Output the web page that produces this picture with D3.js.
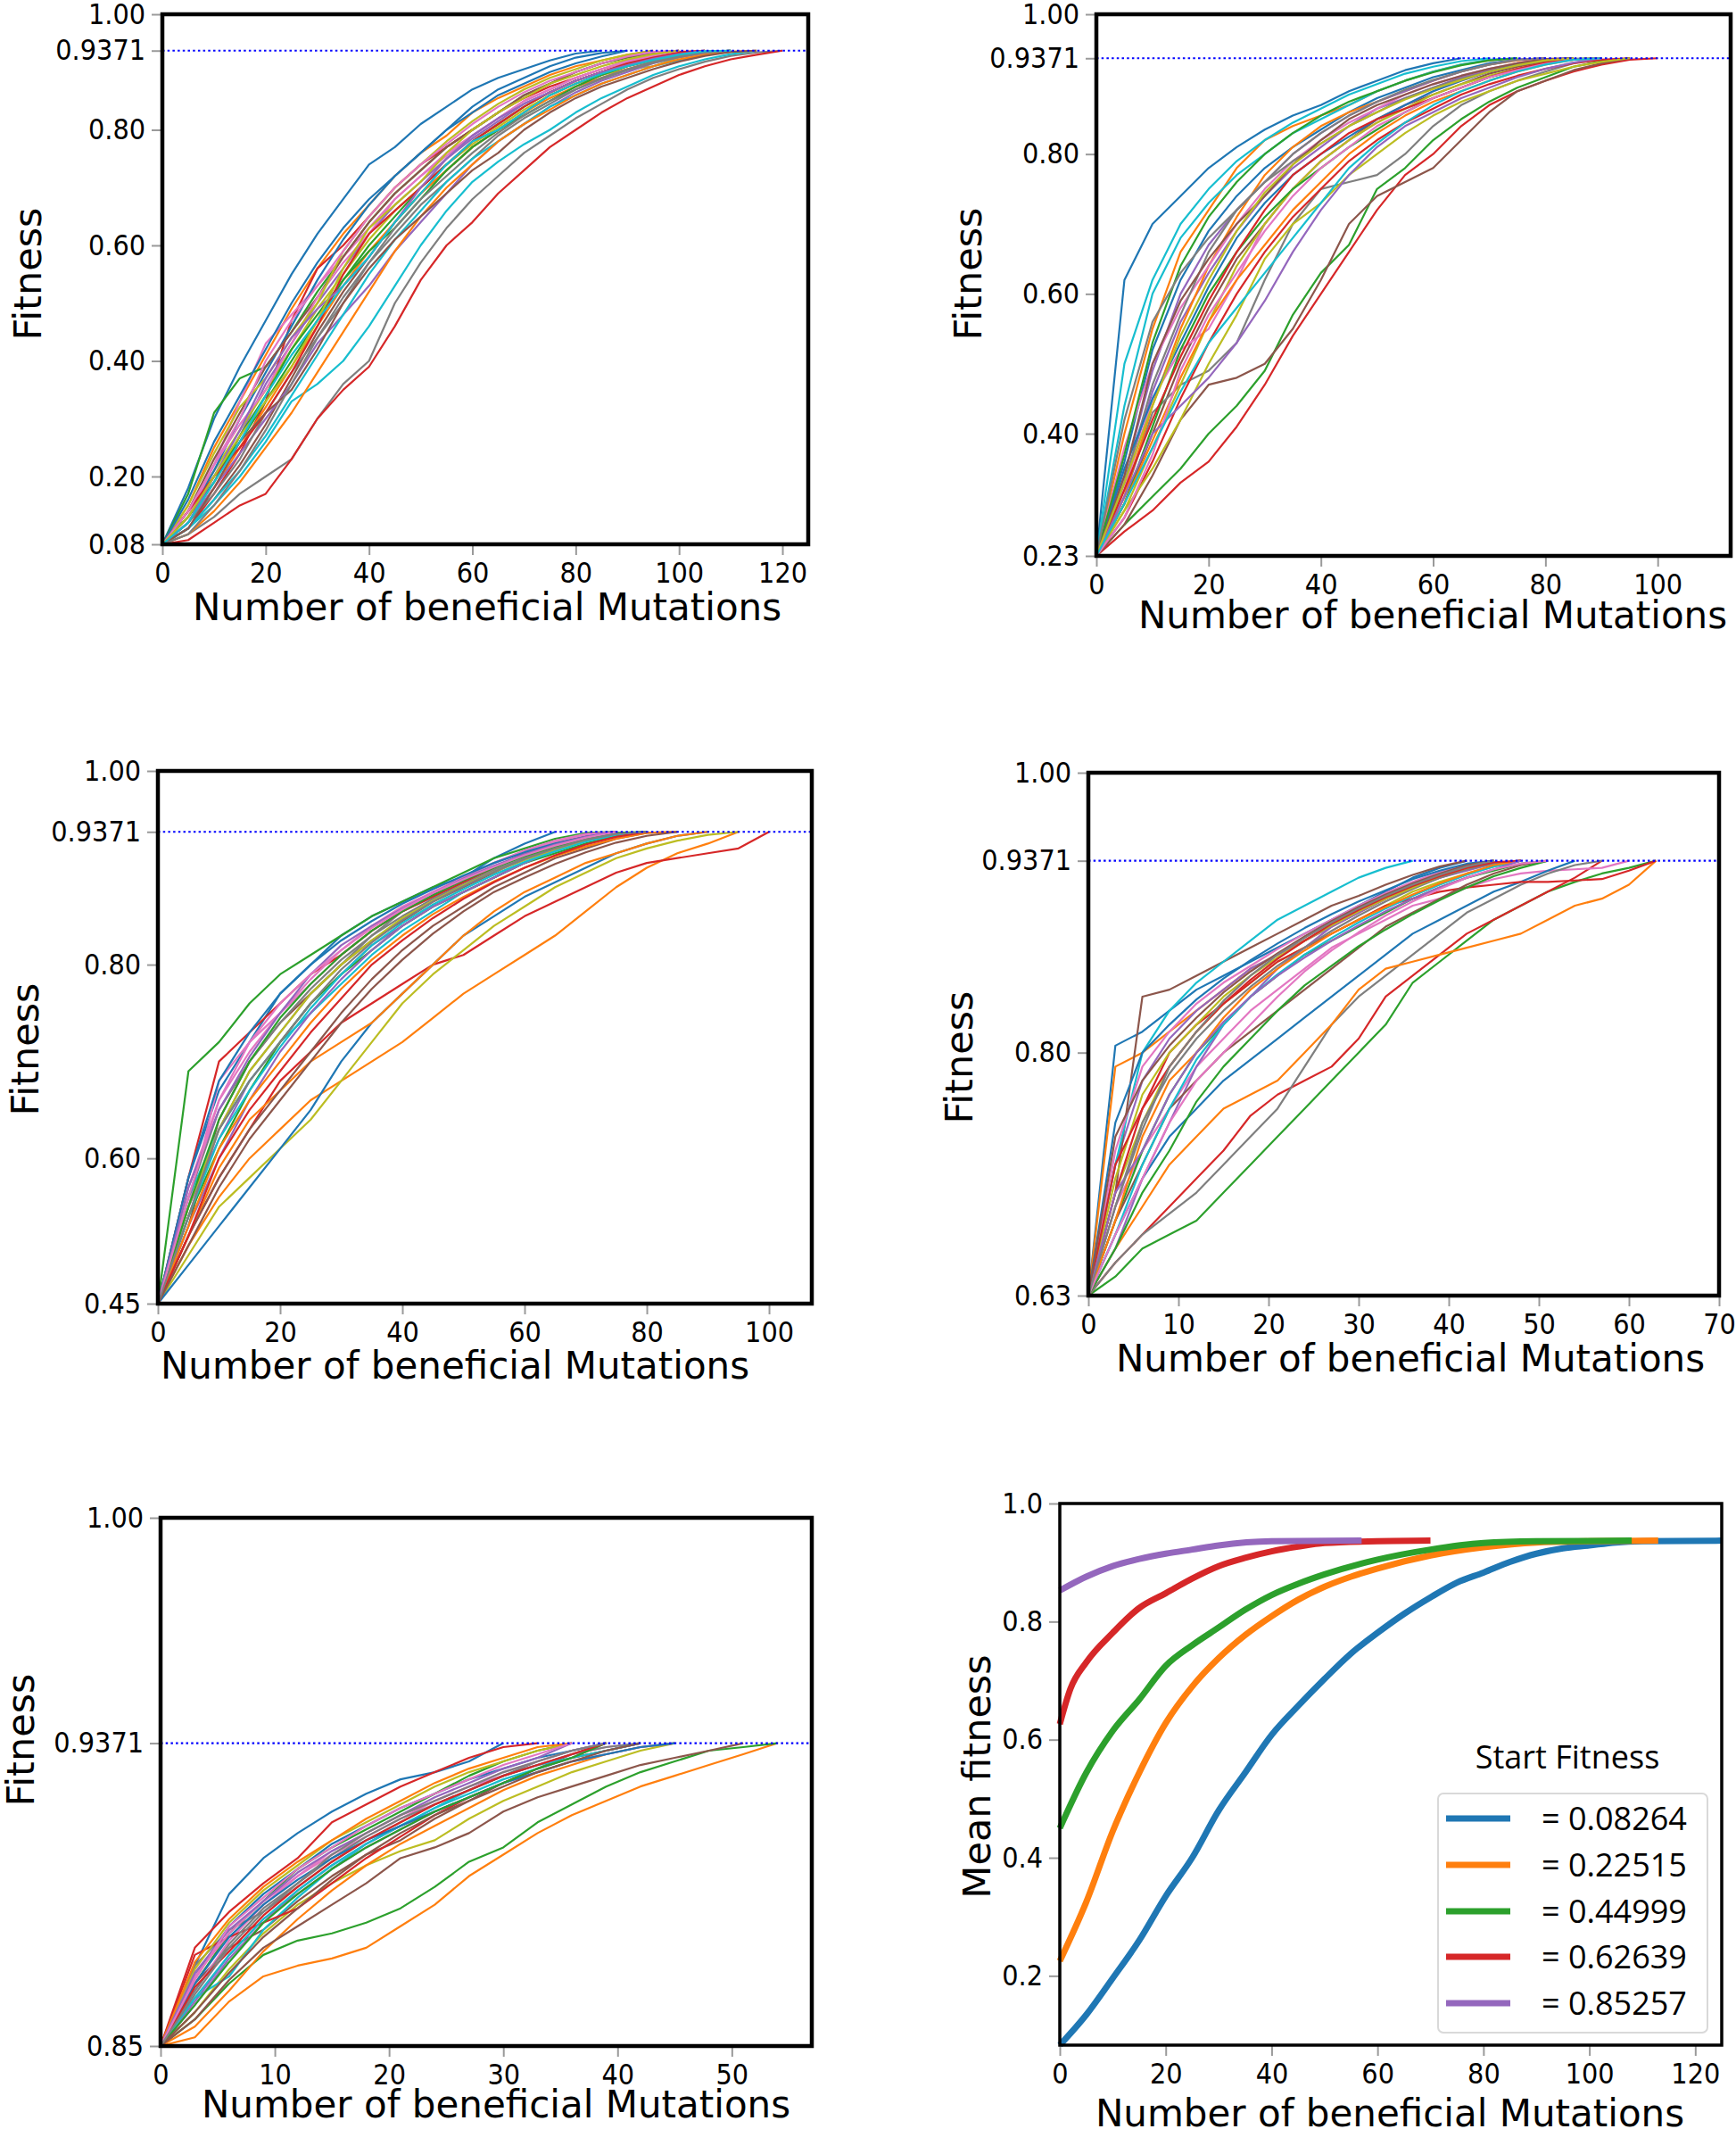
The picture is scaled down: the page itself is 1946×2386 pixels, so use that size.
<!DOCTYPE html>
<html>
<head>
<meta charset="utf-8">
<script src="https://cdn.jsdelivr.net/npm/d3@7"></script>
<style>
  body { margin: 0; background: #fff; }
</style>
</head>
<body>
<div id="chart"></div>
<script>
// ---- data ----
var maxFitness = 0.9371;
var colors = ["#1f77b4", "#ff7f0e", "#2ca02c", "#d62728", "#9467bd",
              "#8c564b", "#e377c2", "#7f7f7f", "#bcbd22", "#17becf"];

// panel 1 : start 0.08264, one value every 5 mutations
var p1Step = 5;
var p1Lines = [
  [0.08264,0.18,0.30,0.39,0.47,0.55,0.62,0.68,0.74,0.77,0.81,0.84,0.87,0.89,0.905,0.92,0.932,0.9371],
  [0.08264,0.15,0.25,0.33,0.41,0.49,0.56,0.62,0.67,0.72,0.76,0.79,0.83,0.855,0.875,0.895,0.91,0.92,0.93,0.9371],
  [0.08264,0.17,0.31,0.37,0.39,0.45,0.52,0.58,0.64,0.69,0.73,0.77,0.80,0.83,0.86,0.88,0.90,0.915,0.925,0.933,0.9371],
  [0.08264,0.11,0.17,0.24,0.33,0.47,0.56,0.60,0.65,0.70,0.74,0.77,0.80,0.83,0.855,0.875,0.89,0.905,0.918,0.928,0.935,0.9371],
  [0.08264,0.12,0.19,0.27,0.36,0.43,0.50,0.56,0.62,0.67,0.71,0.75,0.785,0.815,0.845,0.865,0.885,0.90,0.915,0.925,0.932,0.9371],
  [0.08264,0.11,0.16,0.22,0.29,0.37,0.45,0.52,0.58,0.64,0.69,0.73,0.77,0.80,0.83,0.86,0.88,0.895,0.91,0.92,0.93,0.935,0.9371],
  [0.08264,0.14,0.22,0.33,0.43,0.48,0.53,0.58,0.63,0.68,0.72,0.76,0.79,0.82,0.85,0.87,0.89,0.905,0.918,0.928,0.9371],
  [0.08264,0.10,0.13,0.17,0.20,0.23,0.30,0.36,0.40,0.50,0.57,0.63,0.68,0.72,0.76,0.79,0.82,0.845,0.87,0.89,0.905,0.918,0.928,0.934,0.9371],
  [0.08264,0.14,0.21,0.28,0.35,0.42,0.49,0.55,0.61,0.66,0.70,0.74,0.775,0.805,0.835,0.86,0.88,0.895,0.905,0.91,0.925,0.933,0.9371],
  [0.08264,0.11,0.15,0.20,0.26,0.33,0.36,0.40,0.46,0.53,0.60,0.66,0.71,0.745,0.775,0.80,0.83,0.855,0.875,0.895,0.91,0.922,0.931,0.9371],
  [0.08264,0.13,0.21,0.30,0.38,0.46,0.54,0.61,0.67,0.72,0.76,0.80,0.84,0.87,0.89,0.91,0.925,0.933,0.9371],
  [0.08264,0.12,0.18,0.25,0.32,0.39,0.46,0.53,0.59,0.64,0.69,0.73,0.77,0.80,0.83,0.855,0.875,0.89,0.905,0.918,0.928,0.935,0.9371],
  [0.08264,0.13,0.20,0.26,0.33,0.40,0.47,0.54,0.60,0.65,0.70,0.74,0.78,0.81,0.84,0.865,0.885,0.90,0.912,0.922,0.93,0.935,0.9371],
  [0.08264,0.09,0.12,0.15,0.17,0.23,0.30,0.35,0.39,0.46,0.54,0.60,0.64,0.69,0.73,0.77,0.80,0.83,0.855,0.875,0.895,0.91,0.922,0.93,0.9371],
  [0.08264,0.12,0.18,0.24,0.30,0.36,0.43,0.48,0.53,0.59,0.64,0.69,0.74,0.78,0.81,0.84,0.865,0.885,0.90,0.915,0.926,0.933,0.9371],
  [0.08264,0.14,0.23,0.31,0.39,0.45,0.51,0.58,0.64,0.69,0.73,0.77,0.80,0.83,0.86,0.88,0.90,0.915,0.926,0.934,0.9371],
  [0.08264,0.13,0.22,0.29,0.35,0.43,0.51,0.57,0.62,0.68,0.72,0.755,0.79,0.82,0.85,0.87,0.89,0.905,0.92,0.93,0.9371],
  [0.08264,0.12,0.17,0.23,0.31,0.38,0.44,0.50,0.57,0.62,0.67,0.71,0.75,0.79,0.82,0.845,0.87,0.89,0.905,0.918,0.928,0.935,0.9371],
  [0.08264,0.15,0.24,0.32,0.37,0.44,0.50,0.59,0.65,0.70,0.74,0.78,0.815,0.845,0.87,0.89,0.905,0.92,0.93,0.9371],
  [0.08264,0.11,0.16,0.21,0.27,0.34,0.41,0.48,0.55,0.61,0.66,0.71,0.75,0.78,0.81,0.84,0.86,0.88,0.895,0.91,0.92,0.93,0.9371],
  [0.08264,0.16,0.26,0.34,0.42,0.50,0.57,0.63,0.68,0.72,0.76,0.80,0.83,0.86,0.88,0.90,0.915,0.927,0.9371],
  [0.08264,0.10,0.14,0.19,0.25,0.31,0.38,0.45,0.52,0.59,0.65,0.70,0.74,0.78,0.81,0.835,0.86,0.88,0.895,0.91,0.922,0.93,0.935,0.9371],
  [0.08264,0.13,0.19,0.27,0.34,0.42,0.48,0.54,0.59,0.63,0.68,0.73,0.77,0.80,0.825,0.85,0.875,0.895,0.91,0.922,0.931,0.9371],
  [0.08264,0.14,0.20,0.25,0.31,0.38,0.46,0.55,0.62,0.66,0.70,0.74,0.78,0.81,0.84,0.865,0.885,0.90,0.915,0.925,0.933,0.9371],
  [0.08264,0.12,0.20,0.28,0.37,0.44,0.49,0.53,0.58,0.64,0.70,0.75,0.79,0.82,0.845,0.865,0.885,0.90,0.912,0.923,0.931,0.9371],
  [0.08264,0.11,0.18,0.26,0.31,0.35,0.42,0.50,0.56,0.61,0.65,0.69,0.73,0.76,0.80,0.83,0.855,0.875,0.89,0.905,0.918,0.928,0.935,0.9371],
  [0.08264,0.14,0.22,0.30,0.40,0.47,0.53,0.59,0.65,0.70,0.74,0.775,0.81,0.84,0.865,0.885,0.90,0.915,0.927,0.935,0.9371],
  [0.08264,0.10,0.15,0.21,0.28,0.36,0.44,0.51,0.57,0.63,0.68,0.72,0.76,0.795,0.825,0.85,0.87,0.888,0.903,0.916,0.926,0.934,0.9371],
  [0.08264,0.13,0.20,0.27,0.33,0.39,0.47,0.56,0.63,0.67,0.71,0.76,0.80,0.83,0.855,0.88,0.895,0.91,0.922,0.931,0.9371],
  [0.08264,0.12,0.19,0.26,0.34,0.41,0.47,0.53,0.58,0.64,0.69,0.74,0.78,0.80,0.83,0.86,0.88,0.897,0.91,0.921,0.93,0.936,0.9371]
];
var p1XTicks = [0, 20, 40, 60, 80, 100, 120];
var p1YTicks = [0.08264, 0.20, 0.40, 0.60, 0.80, 0.9371, 1.00];
var p1YLabels = ["0.08", "0.20", "0.40", "0.60", "0.80", "0.9371", "1.00"];

// panel 2 : start 0.22515
var p2Step = 5;
var p2Lines = [
  [0.22515,0.62,0.70,0.74,0.78,0.81,0.835,0.855,0.87,0.89,0.905,0.92,0.93,0.9371],
  [0.22515,0.40,0.55,0.66,0.72,0.78,0.82,0.84,0.855,0.87,0.89,0.905,0.918,0.928,0.934,0.9371],
  [0.22515,0.27,0.31,0.35,0.40,0.44,0.49,0.57,0.63,0.67,0.75,0.78,0.82,0.85,0.875,0.895,0.91,0.925,0.933,0.9371],
  [0.22515,0.26,0.29,0.33,0.36,0.41,0.47,0.54,0.60,0.66,0.72,0.77,0.80,0.84,0.87,0.89,0.905,0.918,0.928,0.935,0.9371],
  [0.22515,0.33,0.46,0.56,0.63,0.69,0.74,0.78,0.81,0.84,0.865,0.88,0.895,0.91,0.92,0.93,0.936,0.9371],
  [0.22515,0.30,0.40,0.50,0.58,0.65,0.70,0.75,0.79,0.82,0.85,0.87,0.885,0.90,0.915,0.925,0.932,0.936,0.9371],
  [0.22515,0.32,0.45,0.52,0.55,0.62,0.70,0.75,0.79,0.82,0.845,0.87,0.89,0.905,0.918,0.928,0.935,0.9371],
  [0.22515,0.31,0.43,0.47,0.49,0.53,0.62,0.70,0.75,0.76,0.77,0.80,0.84,0.87,0.89,0.905,0.918,0.93,0.9371],
  [0.22515,0.29,0.38,0.47,0.56,0.64,0.70,0.75,0.79,0.82,0.845,0.865,0.885,0.90,0.912,0.922,0.93,0.935,0.9371],
  [0.22515,0.50,0.62,0.70,0.75,0.79,0.82,0.845,0.865,0.885,0.90,0.915,0.925,0.933,0.9371],
  [0.22515,0.36,0.52,0.62,0.69,0.74,0.78,0.81,0.835,0.86,0.88,0.895,0.91,0.92,0.93,0.935,0.9371],
  [0.22515,0.31,0.44,0.55,0.64,0.71,0.77,0.81,0.84,0.86,0.875,0.89,0.905,0.918,0.928,0.934,0.9371],
  [0.22515,0.30,0.41,0.52,0.60,0.66,0.71,0.75,0.78,0.81,0.835,0.86,0.88,0.895,0.91,0.92,0.93,0.936,0.9371],
  [0.22515,0.28,0.36,0.45,0.53,0.60,0.66,0.71,0.75,0.79,0.82,0.845,0.865,0.885,0.90,0.912,0.922,0.93,0.935,0.9371],
  [0.22515,0.34,0.49,0.60,0.67,0.72,0.76,0.80,0.83,0.855,0.875,0.89,0.905,0.918,0.928,0.935,0.9371],
  [0.22515,0.27,0.34,0.42,0.47,0.48,0.50,0.55,0.62,0.70,0.74,0.76,0.78,0.82,0.86,0.89,0.905,0.92,0.93,0.9371],
  [0.22515,0.38,0.50,0.58,0.64,0.70,0.75,0.79,0.82,0.845,0.865,0.885,0.90,0.912,0.922,0.93,0.9371],
  [0.22515,0.33,0.47,0.57,0.66,0.72,0.76,0.79,0.815,0.84,0.86,0.88,0.895,0.908,0.918,0.927,0.934,0.9371],
  [0.22515,0.29,0.35,0.42,0.50,0.57,0.65,0.70,0.73,0.77,0.80,0.83,0.855,0.875,0.89,0.905,0.915,0.925,0.932,0.9371],
  [0.22515,0.44,0.60,0.68,0.73,0.77,0.80,0.83,0.85,0.87,0.89,0.905,0.918,0.928,0.935,0.9371],
  [0.22515,0.35,0.45,0.53,0.61,0.68,0.73,0.77,0.80,0.825,0.85,0.87,0.89,0.905,0.918,0.928,0.935,0.9371],
  [0.22515,0.30,0.39,0.48,0.56,0.62,0.67,0.72,0.76,0.80,0.83,0.855,0.875,0.89,0.905,0.918,0.928,0.935,0.9371],
  [0.22515,0.37,0.53,0.64,0.71,0.76,0.80,0.83,0.855,0.875,0.89,0.905,0.917,0.927,0.934,0.9371],
  [0.22515,0.32,0.42,0.51,0.59,0.66,0.72,0.77,0.80,0.83,0.85,0.865,0.88,0.895,0.91,0.922,0.931,0.9371],
  [0.22515,0.31,0.40,0.44,0.48,0.53,0.59,0.66,0.72,0.77,0.81,0.84,0.86,0.88,0.895,0.91,0.922,0.931,0.9371],
  [0.22515,0.34,0.50,0.59,0.65,0.70,0.74,0.785,0.82,0.85,0.87,0.885,0.90,0.912,0.922,0.93,0.936,0.9371],
  [0.22515,0.28,0.37,0.49,0.57,0.63,0.69,0.74,0.78,0.81,0.84,0.86,0.88,0.895,0.91,0.92,0.929,0.935,0.9371],
  [0.22515,0.42,0.56,0.63,0.68,0.72,0.76,0.80,0.83,0.855,0.875,0.892,0.906,0.918,0.928,0.935,0.9371],
  [0.22515,0.33,0.44,0.54,0.62,0.69,0.745,0.785,0.815,0.84,0.86,0.878,0.893,0.906,0.918,0.927,0.934,0.9371],
  [0.22515,0.30,0.38,0.46,0.53,0.58,0.63,0.68,0.73,0.78,0.815,0.845,0.87,0.89,0.905,0.918,0.928,0.935,0.9371]
];
var p2XTicks = [0, 20, 40, 60, 80, 100];
var p2YTicks = [0.22515, 0.40, 0.60, 0.80, 0.9371, 1.00];
var p2YLabels = ["0.23", "0.40", "0.60", "0.80", "0.9371", "1.00"];

// panel 3 : start 0.44999
var p3Step = 5;
var p3Lines = [
  [0.44999,0.58,0.67,0.72,0.77,0.80,0.83,0.85,0.865,0.88,0.89,0.91,0.925,0.9371],
  [0.44999,0.51,0.56,0.60,0.63,0.66,0.68,0.70,0.72,0.745,0.77,0.79,0.81,0.83,0.855,0.88,0.90,0.915,0.925,0.9371],
  [0.44999,0.69,0.72,0.76,0.79,0.81,0.83,0.85,0.865,0.88,0.895,0.91,0.92,0.93,0.936,0.9371],
  [0.44999,0.52,0.58,0.63,0.68,0.71,0.74,0.76,0.78,0.80,0.81,0.83,0.85,0.865,0.88,0.895,0.905,0.91,0.915,0.92,0.9371],
  [0.44999,0.55,0.62,0.68,0.72,0.76,0.79,0.82,0.84,0.86,0.875,0.89,0.905,0.918,0.928,0.934,0.9371],
  [0.44999,0.53,0.64,0.70,0.74,0.77,0.80,0.825,0.845,0.865,0.88,0.895,0.91,0.92,0.93,0.9371],
  [0.44999,0.55,0.68,0.72,0.75,0.78,0.81,0.835,0.855,0.875,0.89,0.905,0.918,0.928,0.935,0.9371],
  [0.44999,0.54,0.63,0.69,0.73,0.77,0.80,0.83,0.855,0.87,0.885,0.90,0.912,0.922,0.93,0.935,0.9371],
  [0.44999,0.50,0.55,0.58,0.61,0.64,0.68,0.72,0.76,0.79,0.815,0.84,0.86,0.88,0.895,0.91,0.92,0.928,0.934,0.9371],
  [0.44999,0.56,0.63,0.68,0.72,0.75,0.78,0.81,0.835,0.855,0.875,0.89,0.905,0.918,0.928,0.935,0.9371],
  [0.44999,0.49,0.53,0.57,0.61,0.65,0.70,0.74,0.77,0.80,0.83,0.85,0.87,0.885,0.90,0.915,0.925,0.933,0.9371],
  [0.44999,0.52,0.59,0.64,0.67,0.70,0.72,0.74,0.77,0.80,0.83,0.855,0.875,0.89,0.905,0.915,0.925,0.933,0.9371],
  [0.44999,0.54,0.61,0.67,0.72,0.76,0.79,0.815,0.84,0.86,0.875,0.89,0.905,0.915,0.925,0.933,0.9371],
  [0.44999,0.58,0.70,0.73,0.76,0.79,0.81,0.835,0.855,0.87,0.885,0.90,0.915,0.925,0.933,0.9371],
  [0.44999,0.53,0.60,0.66,0.71,0.75,0.785,0.815,0.84,0.86,0.875,0.89,0.905,0.918,0.928,0.935,0.9371],
  [0.44999,0.52,0.58,0.63,0.67,0.71,0.75,0.785,0.815,0.84,0.86,0.88,0.895,0.91,0.92,0.93,0.936,0.9371],
  [0.44999,0.57,0.66,0.71,0.75,0.785,0.815,0.84,0.86,0.875,0.89,0.905,0.917,0.927,0.934,0.9371],
  [0.44999,0.56,0.65,0.70,0.74,0.775,0.805,0.83,0.85,0.868,0.883,0.898,0.91,0.92,0.929,0.935,0.9371],
  [0.44999,0.55,0.63,0.69,0.73,0.77,0.80,0.825,0.848,0.866,0.882,0.896,0.908,0.919,0.928,0.935,0.9371],
  [0.44999,0.54,0.62,0.67,0.715,0.755,0.79,0.82,0.843,0.862,0.878,0.893,0.906,0.917,0.927,0.934,0.9371],
  [0.44999,0.58,0.68,0.73,0.77,0.80,0.825,0.845,0.863,0.878,0.892,0.905,0.916,0.925,0.932,0.9371],
  [0.44999,0.53,0.61,0.66,0.70,0.74,0.775,0.805,0.83,0.852,0.87,0.886,0.90,0.912,0.922,0.93,0.936,0.9371],
  [0.44999,0.55,0.64,0.70,0.745,0.78,0.81,0.835,0.855,0.872,0.887,0.90,0.912,0.922,0.93,0.936,0.9371],
  [0.44999,0.52,0.60,0.65,0.69,0.73,0.765,0.80,0.825,0.848,0.868,0.885,0.90,0.913,0.924,0.932,0.9371],
  [0.44999,0.57,0.65,0.705,0.75,0.79,0.82,0.84,0.858,0.874,0.889,0.902,0.914,0.924,0.932,0.9371],
  [0.44999,0.51,0.57,0.62,0.66,0.70,0.74,0.775,0.805,0.832,0.855,0.875,0.89,0.904,0.916,0.926,0.933,0.9371],
  [0.44999,0.56,0.66,0.72,0.76,0.79,0.815,0.838,0.857,0.874,0.888,0.901,0.913,0.923,0.931,0.9371],
  [0.44999,0.54,0.63,0.68,0.72,0.76,0.795,0.823,0.846,0.865,0.881,0.896,0.909,0.92,0.929,0.935,0.9371]
];
var p3XTicks = [0, 20, 40, 60, 80, 100];
var p3YTicks = [0.44999, 0.60, 0.80, 0.9371, 1.00];
var p3YLabels = ["0.45", "0.60", "0.80", "0.9371", "1.00"];

// panel 4 : start 0.62639, one value every 3 mutations
var p4Step = 3;
var p4Lines = [
  [0.62639,0.805,0.815,0.83,0.845,0.855,0.865,0.875,0.885,0.895,0.905,0.915,0.925,0.932,0.9371],
  [0.62639,0.79,0.80,0.815,0.83,0.845,0.86,0.87,0.88,0.89,0.90,0.91,0.92,0.928,0.934,0.9371],
  [0.62639,0.64,0.66,0.67,0.68,0.70,0.72,0.74,0.76,0.78,0.80,0.82,0.85,0.865,0.88,0.895,0.905,0.915,0.922,0.928,0.932,0.9371],
  [0.62639,0.65,0.67,0.69,0.71,0.73,0.755,0.77,0.78,0.79,0.81,0.84,0.855,0.87,0.885,0.895,0.905,0.915,0.925,0.9371],
  [0.62639,0.72,0.78,0.81,0.83,0.845,0.86,0.87,0.88,0.89,0.90,0.91,0.918,0.925,0.93,0.935,0.9371],
  [0.62639,0.70,0.84,0.845,0.855,0.865,0.875,0.885,0.895,0.905,0.912,0.92,0.927,0.933,0.9371],
  [0.62639,0.69,0.73,0.76,0.79,0.81,0.83,0.845,0.86,0.875,0.885,0.895,0.905,0.91,0.918,0.924,0.928,0.93,0.931,0.932,0.9371],
  [0.62639,0.65,0.67,0.685,0.70,0.72,0.74,0.76,0.79,0.82,0.84,0.855,0.87,0.885,0.90,0.91,0.92,0.928,0.934,0.9371],
  [0.62639,0.70,0.75,0.79,0.815,0.835,0.85,0.865,0.875,0.885,0.895,0.905,0.915,0.922,0.928,0.933,0.9371],
  [0.62639,0.72,0.80,0.83,0.85,0.865,0.88,0.895,0.905,0.915,0.925,0.932,0.9371],
  [0.62639,0.67,0.71,0.74,0.76,0.78,0.795,0.81,0.825,0.84,0.855,0.87,0.885,0.895,0.905,0.915,0.922,0.93,0.9371],
  [0.62639,0.66,0.69,0.72,0.74,0.76,0.77,0.78,0.80,0.82,0.845,0.86,0.865,0.87,0.875,0.88,0.885,0.895,0.905,0.91,0.92,0.9371],
  [0.62639,0.68,0.73,0.77,0.80,0.82,0.84,0.855,0.87,0.88,0.89,0.90,0.91,0.918,0.925,0.93,0.935,0.9371],
  [0.62639,0.70,0.76,0.80,0.82,0.835,0.85,0.865,0.875,0.885,0.895,0.905,0.91,0.915,0.918,0.92,0.922,0.922,0.923,0.924,0.93,0.9371],
  [0.62639,0.66,0.71,0.75,0.79,0.82,0.84,0.86,0.875,0.89,0.90,0.91,0.918,0.925,0.931,0.935,0.9371],
  [0.62639,0.68,0.72,0.76,0.78,0.80,0.815,0.83,0.845,0.86,0.875,0.89,0.90,0.91,0.92,0.928,0.934,0.9371],
  [0.62639,0.73,0.79,0.815,0.835,0.85,0.862,0.874,0.885,0.895,0.905,0.914,0.922,0.929,0.934,0.9371],
  [0.62639,0.69,0.75,0.785,0.81,0.83,0.847,0.862,0.875,0.887,0.898,0.908,0.917,0.925,0.931,0.935,0.9371],
  [0.62639,0.71,0.77,0.80,0.82,0.84,0.855,0.868,0.88,0.891,0.901,0.91,0.918,0.926,0.932,0.9371],
  [0.62639,0.67,0.72,0.76,0.795,0.82,0.84,0.856,0.87,0.882,0.893,0.903,0.912,0.92,0.927,0.933,0.9371],
  [0.62639,0.75,0.80,0.82,0.838,0.853,0.866,0.878,0.889,0.899,0.908,0.916,0.924,0.93,0.935,0.9371],
  [0.62639,0.68,0.74,0.78,0.80,0.825,0.845,0.86,0.873,0.885,0.895,0.904,0.913,0.921,0.928,0.934,0.9371],
  [0.62639,0.66,0.70,0.73,0.765,0.79,0.81,0.83,0.848,0.862,0.876,0.888,0.899,0.909,0.918,0.926,0.932,0.9371],
  [0.62639,0.72,0.76,0.79,0.815,0.835,0.852,0.867,0.88,0.892,0.902,0.911,0.919,0.926,0.932,0.936,0.9371],
  [0.62639,0.70,0.73,0.77,0.80,0.822,0.84,0.855,0.868,0.88,0.891,0.901,0.91,0.918,0.925,0.931,0.9371],
  [0.62639,0.74,0.78,0.805,0.825,0.843,0.858,0.871,0.883,0.894,0.904,0.913,0.921,0.928,0.934,0.9371],
  [0.62639,0.67,0.71,0.75,0.78,0.80,0.82,0.84,0.858,0.873,0.886,0.898,0.908,0.917,0.925,0.931,0.935,0.9371],
  [0.62639,0.69,0.745,0.79,0.815,0.837,0.855,0.87,0.882,0.893,0.903,0.912,0.92,0.927,0.933,0.9371]
];
var p4XTicks = [0, 10, 20, 30, 40, 50, 60, 70];
var p4YTicks = [0.62639, 0.80, 0.9371, 1.00];
var p4YLabels = ["0.63", "0.80", "0.9371", "1.00"];

// panel 5 : start 0.85257
var p5Step = 3;
var p5Lines = [
  [0.85257,0.875,0.895,0.905,0.912,0.918,0.923,0.927,0.929,0.932,0.9371],
  [0.85257,0.855,0.865,0.872,0.875,0.877,0.88,0.886,0.892,0.90,0.906,0.912,0.917,0.921,0.925,0.928,0.931,0.934,0.9371],
  [0.85257,0.86,0.87,0.878,0.882,0.884,0.887,0.891,0.897,0.904,0.908,0.915,0.92,0.925,0.929,0.932,0.935,0.936,0.9371],
  [0.85257,0.88,0.89,0.898,0.905,0.915,0.92,0.925,0.929,0.933,0.936,0.9371],
  [0.85257,0.865,0.878,0.888,0.895,0.902,0.908,0.913,0.918,0.922,0.926,0.93,0.933,0.9371],
  [0.85257,0.87,0.88,0.885,0.893,0.90,0.906,0.91,0.916,0.921,0.926,0.93,0.934,0.9371],
  [0.85257,0.868,0.882,0.892,0.90,0.907,0.912,0.917,0.921,0.925,0.928,0.931,0.934,0.936,0.9371],
  [0.85257,0.875,0.885,0.89,0.897,0.904,0.91,0.915,0.92,0.924,0.928,0.932,0.935,0.9371],
  [0.85257,0.862,0.874,0.884,0.892,0.898,0.903,0.907,0.91,0.916,0.921,0.925,0.929,0.932,0.935,0.9371],
  [0.85257,0.866,0.872,0.885,0.894,0.902,0.909,0.914,0.919,0.924,0.928,0.931,0.933,0.935,0.9371],
  [0.85257,0.872,0.886,0.895,0.902,0.909,0.914,0.919,0.923,0.927,0.93,0.933,0.935,0.9371],
  [0.85257,0.858,0.868,0.879,0.888,0.896,0.903,0.909,0.914,0.919,0.924,0.928,0.931,0.934,0.936,0.9371],
  [0.85257,0.87,0.884,0.893,0.902,0.908,0.913,0.918,0.923,0.928,0.932,0.935,0.9371],
  [0.85257,0.878,0.883,0.887,0.891,0.898,0.905,0.911,0.917,0.922,0.926,0.93,0.933,0.935,0.9371],
  [0.85257,0.864,0.877,0.887,0.896,0.903,0.909,0.914,0.918,0.922,0.926,0.929,0.932,0.934,0.936,0.9371],
  [0.85257,0.86,0.871,0.88,0.886,0.892,0.898,0.905,0.908,0.912,0.918,0.922,0.925,0.928,0.931,0.933,0.935,0.9371],
  [0.85257,0.872,0.884,0.893,0.9,0.906,0.911,0.916,0.921,0.925,0.929,0.932,0.935,0.9371],
  [0.85257,0.868,0.881,0.891,0.898,0.905,0.911,0.916,0.92,0.924,0.928,0.931,0.934,0.936,0.9371],
  [0.85257,0.874,0.887,0.896,0.903,0.91,0.915,0.92,0.925,0.929,0.932,0.935,0.9371],
  [0.85257,0.866,0.878,0.888,0.896,0.903,0.909,0.914,0.919,0.923,0.927,0.93,0.933,0.935,0.9371],
  [0.85257,0.87,0.883,0.892,0.899,0.905,0.91,0.914,0.918,0.922,0.926,0.929,0.932,0.934,0.936,0.9371],
  [0.85257,0.876,0.888,0.897,0.904,0.91,0.916,0.921,0.926,0.93,0.933,0.936,0.9371],
  [0.85257,0.864,0.876,0.887,0.895,0.902,0.908,0.913,0.918,0.922,0.926,0.93,0.933,0.9371],
  [0.85257,0.869,0.879,0.889,0.897,0.904,0.91,0.915,0.92,0.924,0.928,0.931,0.934,0.9371],
  [0.85257,0.873,0.885,0.893,0.901,0.907,0.912,0.917,0.922,0.926,0.93,0.933,0.9371],
  [0.85257,0.862,0.873,0.883,0.891,0.899,0.906,0.912,0.917,0.921,0.925,0.929,0.932,0.935,0.9371],
  [0.85257,0.871,0.886,0.894,0.902,0.908,0.914,0.919,0.923,0.927,0.931,0.934,0.9371],
  [0.85257,0.867,0.88,0.89,0.898,0.906,0.912,0.917,0.921,0.925,0.929,0.932,0.935,0.9371]
];
var p5XTicks = [0, 10, 20, 30, 40, 50];
var p5YTicks = [0.85257, 0.9371, 1.00];
var p5YLabels = ["0.85", "0.9371", "1.00"];

// panel 6 : mean fitness per start value
var legendLabels = ["= 0.08264", "= 0.22515", "= 0.44999", "= 0.62639", "= 0.85257"];
var meanX = [
  [0,5,10,15,20,25,30,35,40,45,50,55,60,65,70,75,80,85,90,95,100,105,110,125],
  [0,5,10,15,20,25,30,35,40,45,50,55,60,70,80,90,100,113],
  [0,5,10,15,20,25,30,35,40,45,50,60,70,80,90,108],
  [0,2,5,10,15,20,25,30,35,40,45,50,60,70],
  [0,5,10,15,20,25,30,40,57]
];
var meanY = [
  [0.08264,0.134,0.196,0.26,0.335,0.40,0.48,0.544,0.608,0.657,0.703,0.746,0.781,0.813,0.841,0.866,0.883,0.901,0.915,0.924,0.929,0.934,0.936,0.9371],
  [0.22515,0.325,0.445,0.544,0.628,0.69,0.738,0.777,0.809,0.837,0.859,0.876,0.89,0.912,0.926,0.934,0.936,0.9371],
  [0.44999,0.544,0.615,0.668,0.725,0.76,0.79,0.82,0.845,0.864,0.88,0.905,0.922,0.933,0.936,0.9371],
  [0.62639,0.686,0.731,0.781,0.823,0.848,0.873,0.894,0.908,0.919,0.927,0.933,0.936,0.9371],
  [0.85257,0.876,0.894,0.906,0.915,0.922,0.929,0.936,0.9371]
];
var p6XTicks = [0, 20, 40, 60, 80, 100, 120];
var p6YTicks = [0.2, 0.4, 0.6, 0.8, 1.0];
var p6YLabels = ["0.2", "0.4", "0.6", "0.8", "1.0"];

// ---- layout ----
var panels = [
  { box: [182, 16, 906, 610],   xMax: 125, yMin: 0.08264, lines: p1Lines, step: p1Step, xt: p1XTicks, yt: p1YTicks, yl: p1YLabels, ylab: [46, 307],   xlab: [546, 695] },
  { box: [1229, 16, 1940, 623], xMax: 113, yMin: 0.22515, lines: p2Lines, step: p2Step, xt: p2XTicks, yt: p2YTicks, yl: p2YLabels, ylab: [1100, 307], xlab: [1606, 704] },
  { box: [177, 864, 910, 1461], xMax: 107, yMin: 0.44999, lines: p3Lines, step: p3Step, xt: p3XTicks, yt: p3YTicks, yl: p3YLabels, ylab: [43, 1176],  xlab: [510, 1545] },
  { box: [1220, 866, 1927, 1452], xMax: 70, yMin: 0.62639, lines: p4Lines, step: p4Step, xt: p4XTicks, yt: p4YTicks, yl: p4YLabels, ylab: [1090, 1185], xlab: [1581, 1537] },
  { box: [180, 1701, 910, 2293], xMax: 57, yMin: 0.85257, lines: p5Lines, step: p5Step, xt: p5XTicks, yt: p5YTicks, yl: p5YLabels, ylab: [38, 1950],  xlab: [556, 2373] }
];

var svg = d3.select("#chart")
  .append("svg")
  .attr("width", 1946)
  .attr("height", 2386)
  .style("display", "block");

svg.append("rect").attr("width", 1946).attr("height", 2386).attr("fill", "#fff");

var tickFont = "'DejaVu Sans Condensed', 'DejaVu Sans', sans-serif";
var labelFont = "'DejaVu Sans', sans-serif";

var drawAxes = function(g, x, y, cfg, frameWidth) {
  var b = cfg.box;
  var yAxis = d3.axisLeft(y)
    .tickValues(cfg.yt)
    .tickFormat(function(d, i) { return cfg.yl[i]; })
    .tickSize(12)
    .tickPadding(7);
  var xAxis = d3.axisBottom(x)
    .tickValues(cfg.xt)
    .tickFormat(d3.format("d"))
    .tickSize(12)
    .tickPadding(8);

  var ya = g.append("g").attr("transform", "translate(" + b[0] + ",0)").call(yAxis);
  var xa = g.append("g").attr("transform", "translate(0," + b[3] + ")").call(xAxis);
  [ya, xa].forEach(function(a) {
    a.select(".domain").remove();
    a.selectAll(".tick line").attr("stroke", "#9a9a9a").attr("stroke-width", 2);
    a.selectAll(".tick text")
      .attr("fill", "#000")
      .style("font-family", tickFont)
      .style("font-size", "32px");
  });

  // frame
  g.append("rect")
    .attr("x", b[0]).attr("y", b[1])
    .attr("width", b[2] - b[0]).attr("height", b[3] - b[1])
    .attr("fill", "none")
    .attr("stroke", "#000")
    .attr("stroke-width", frameWidth);

  g.append("text")
    .attr("transform", "translate(" + cfg.ylab[0] + "," + cfg.ylab[1] + ") rotate(-90)")
    .attr("text-anchor", "middle")
    .style("font-family", labelFont)
    .style("font-size", "43px")
    .text(cfg.yTitle || "Fitness");

  g.append("text")
    .attr("x", cfg.xlab[0]).attr("y", cfg.xlab[1])
    .attr("text-anchor", "middle")
    .style("font-family", labelFont)
    .style("font-size", "42px")
    .text("Number of beneficial Mutations");
};

panels.forEach(function(cfg) {
  var b = cfg.box;
  var x = d3.scaleLinear().domain([0, cfg.xMax]).range([b[0], b[2]]);
  var y = d3.scaleLinear().domain([cfg.yMin, 1.0]).range([b[3], b[1]]);
  var g = svg.append("g");

  var line = d3.line()
    .x(function(d, i) { return x(i * cfg.step); })
    .y(function(d) { return y(d); });

  g.selectAll(".traj")
    .data(cfg.lines)
    .enter()
    .append("path")
    .attr("class", "traj")
    .attr("d", line)
    .attr("fill", "none")
    .attr("stroke", function(d, i) { return colors[i % 10]; })
    .attr("stroke-width", 2.2)
    .attr("stroke-linejoin", "round");

  // dotted max-fitness line
  g.append("line")
    .attr("x1", b[0]).attr("x2", b[2])
    .attr("y1", y(maxFitness)).attr("y2", y(maxFitness))
    .attr("stroke", "#0000ff")
    .attr("stroke-width", 2.2)
    .attr("stroke-dasharray", "2.5,3.2");

  drawAxes(g, x, y, cfg, 4.5);
});

// ---- panel 6 : mean fitness ----
var p6 = { box: [1188, 1685, 1930, 2292], xt: p6XTicks, yt: p6YTicks, yl: p6YLabels, ylab: [1110, 1991], xlab: [1558, 2383], yTitle: "Mean fitness" };
var x6 = d3.scaleLinear().domain([0, 125]).range([p6.box[0], p6.box[2]]);
var y6 = d3.scaleLinear().domain([0.08264, 1.0]).range([p6.box[3], p6.box[1]]);
var g6 = svg.append("g");

var meanLine = d3.line()
  .x(function(d) { return x6(d[0]); })
  .y(function(d) { return y6(d[1]); })
  .curve(d3.curveMonotoneX);

g6.selectAll(".mean")
  .data(meanX.map(function(xs, k) { return xs.map(function(v, j) { return [v, meanY[k][j]]; }); }))
  .enter()
  .append("path")
  .attr("class", "mean")
  .attr("d", meanLine)
  .attr("fill", "none")
  .attr("stroke", function(d, i) { return colors[i]; })
  .attr("stroke-width", 7);

drawAxes(g6, x6, y6, p6, 3.5);

// legend
var legRows = [2038, 2090, 2142, 2193, 2245];
g6.append("text")
  .attr("x", 1757).attr("y", 1982)
  .attr("text-anchor", "middle")
  .style("font-family", "'Open Sans', sans-serif")
  .style("font-size", "36px")
  .text("Start Fitness");

g6.append("rect")
  .attr("x", 1612).attr("y", 2010)
  .attr("width", 302).attr("height", 268)
  .attr("rx", 6)
  .attr("fill", "#fff")
  .attr("fill-opacity", 0.8)
  .attr("stroke", "#d9d9d9")
  .attr("stroke-width", 2);

var leg = g6.selectAll(".leg")
  .data(legendLabels)
  .enter()
  .append("g")
  .attr("class", "leg");

leg.append("line")
  .attr("x1", 1621).attr("x2", 1693)
  .attr("y1", function(d, i) { return legRows[i]; })
  .attr("y2", function(d, i) { return legRows[i]; })
  .attr("stroke", function(d, i) { return colors[i]; })
  .attr("stroke-width", 7);

leg.append("text")
  .attr("x", 1728)
  .attr("y", function(d, i) { return legRows[i] + 13; })
  .style("font-family", "'Open Sans', sans-serif")
  .style("font-size", "36px")
  .text(function(d) { return d; });
</script>
</body>
</html>
